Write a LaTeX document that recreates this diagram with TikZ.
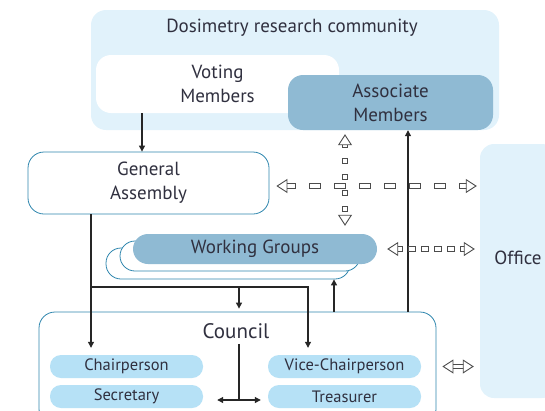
\documentclass[tikz,border=0pt]{standalone}
\usepackage{fontspec}
\setmainfont{PT Sans}
\usetikzlibrary{arrows.meta}

\definecolor{commblue}{HTML}{E1F2FB}
\definecolor{steelfill}{HTML}{8FBAD3}
\definecolor{pillblue}{HTML}{B6E1F6}
\definecolor{edgeteal}{HTML}{2F86AE}
\definecolor{txtgray}{HTML}{30303F}

\tikzset{
  box/.style={rounded corners=15pt, inner sep=0pt, align=center,
    text=txtgray, font=\fontsize{19}{24}\selectfont},
  softbox/.style={box, fill=commblue},
  tealbox/.style={box, draw=edgeteal, line width=0.8pt, fill=white},
  steelbox/.style={box, fill=steelfill},
  pill/.style={box, rounded corners=11pt, fill=pillblue,
    minimum width=153pt, minimum height=23pt, font=\fontsize{16.5}{18}\selectfont},
  label/.style={text=txtgray, font=\fontsize{19}{22}\selectfont, inner sep=0pt},
  link/.style={draw=black!85, line width=1.1pt},
  arr/.style={link, -{Triangle[length=6pt,width=6pt]}},
  twoway/.style={link, {Triangle[length=6pt,width=6pt]}-{Triangle[length=6pt,width=6pt]}},
  hollowtip/.tip={Triangle[open,length=11pt,width=14pt,line width=0.9pt,fill=white]},
  % outer width 5.4pt, rect caps close the ends of every dash
  hollow/.style={draw=black!70, line width=0.9pt, double=white, double distance=3.6pt,
    line cap=rect, hollowtip-hollowtip},
}

\begin{document}
\begin{tikzpicture}[x=1pt,y=-1pt]
  \useasboundingbox (0,0) rectangle (545,410);

  % Dosimetry research community
  \node[softbox, minimum width=408pt, minimum height=120pt] (community) at (295,70) {};
  \node[label] (commtitle) at (292,28) {Dosimetry research community};
  \node[box, fill=white, minimum width=243pt, minimum height=58pt] (voting) at (217.5,84) {Voting\\Members};
  \node[steelbox, minimum width=205pt, minimum height=55pt] (assoc) at (390.5,102.5) {Associate\\Members};

  % Office
  \node[softbox, rounded corners=14pt, minimum width=76pt, minimum height=254pt] (office) at (518,271) {};
  \node[label] (officetext) at (518,258) {Office};

  % General Assembly
  \node[tealbox, rounded corners=16pt, minimum width=241pt, minimum height=62pt] (ga) at (148.5,183) {General\\Assembly};

  % Working Groups (stacked)
  \node[tealbox, minimum width=244pt, minimum height=31pt] (wgback) at (228,263.5) {};
  \node[tealbox, minimum width=240pt, minimum height=30pt] (wgmid) at (240,256) {};
  \node[steelbox, minimum width=244pt, minimum height=30pt] (wg) at (255,249) {Working Groups};

  % Council
  \node[tealbox, rounded corners=16pt, minimum width=397pt, minimum height=113pt] (council) at (237.5,368.5) {};
  \node[label, font=\fontsize{21}{24}\selectfont] (counciltext) at (236,331) {Council};
  \node[pill] (chair) at (126.5,366.5) {Chairperson};
  \node[pill] (secy) at (126.5,396.5) {Secretary};
  \node[pill] (vice) at (344.5,366.5) {Vice-Chairperson};
  \node[pill] (treas) at (344.5,396.5) {Treasurer};

  % columns and rows of the connectors
  \coordinate (colA) at (91,0);
  \coordinate (colB) at (142,0);
  \coordinate (colC) at (239,0);
  \coordinate (colD) at (308,0);
  \coordinate (colE) at (334,0);
  \coordinate (colF) at (345,0);
  \coordinate (colG) at (408,0);
  \coordinate (rowH) at (0,287);
  \coordinate (rowI) at (0,186);
  \coordinate (tee) at (239,400);

  % solid connectors
  \draw[arr] (colB |- voting.south) -- (colB |- ga.north);
  \draw[arr, shorten >=7pt] (colA |- ga.south) -- (colA |- chair.north);
  \draw[arr, shorten >=7pt] (colA |- rowH) -| (colD |- vice.north);
  \draw[arr, shorten >=3pt] (colC |- rowH) -- (colC |- council.north);
  \draw[arr] (colE |- council.north) -- (colE |- wgback.south);
  \draw[arr] (colG |- council.north) -- (colG |- assoc.south);
  \draw[link] (colC |- counciltext.south) ++(0,5) -- (tee);
  \draw[twoway, shorten <=14pt, shorten >=7pt] (secy.east |- tee) -- (treas.west |- tee);

  % hollow dashed connectors
  \draw[hollow, dash pattern=on 6.5pt off 18.5pt, shorten <=7pt, shorten >=3pt] (ga.east |- rowI) -- (office.west |- rowI);
  \draw[hollow, dash pattern=on 0.6pt off 15.4pt, shorten <=4pt, shorten >=8pt] (colF |- assoc.south) -- (colF |- wg.north);
  \draw[hollow, dash pattern=on 2.6pt off 10.4pt, shorten <=10pt, shorten >=5pt] (wg.east) -- (office.west |- wg.east);
  \draw[hollow, shorten <=6pt, shorten >=6pt] (council.east |- vice.east) -- (office.west |- vice.east);
\end{tikzpicture}
\end{document}
